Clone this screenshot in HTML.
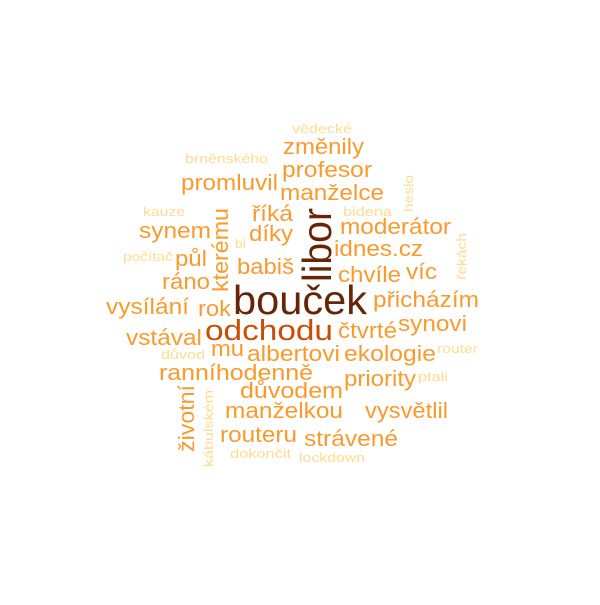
<!DOCTYPE html>
<html><head><meta charset="utf-8"><style>
html,body{margin:0;padding:0;background:#fff;}
svg text{font-family:"Liberation Sans",sans-serif;}
</style></head><body>
<svg width="600" height="600" viewBox="0 0 600 600" xmlns="http://www.w3.org/2000/svg">
<rect width="600" height="600" fill="#fff"/>
<g id="words"></g>
</svg>
<script>
const words = ["vědecké","změnily","brněnského","profesor","promluvil","manželce","heslo","kauze","bidena","říká","moderátor","synem","díky","kterému","libor","bl","idnes.cz","řekách","počítač","půl","babiš","chvíle","víc","ráno","bouček","přicházím","vysílání","rok","odchodu","čtvrté","synovi","vstával","důvod","mu","albertovi","ekologie","router","ranníhodenně","priority","ptali","důvodem","životní","kábulském","manželkou","vysvětlil","routeru","strávené","dokončit","lockdown"];
const weights = [1,2,1,2,2,2,1,1,1,2,2,2,2,2,5,1,2,1,1,2,2,2,2,2,5,2,2,2,4,2,2,2,1,2,2,2,1,2,2,1,2,2,1,2,2,2,2,1,1];
// layout: [x, y(baseline), width, rotated]
const layout = [
[292,133,60,0],[283,154,81,0],[185,163,83,0],[282,177,90,0],[181,190,97,0],[280,200,104,0],
[413,212,37,1],[143,216,42,0],[343,216,49,0],[252,221,41,0],[340,234,111,0],[139,238,72,0],
[249,241,44,0],[228,292,84,1],[331,282,74,1],[235,248,11,0],[334,256,89,0],[466,280,47,1],
[123,261,50,0],[175,266,32,0],[237,274,57,0],[338,282,63,0],[406,279,31,0],[162,289,48,0],
[233,314,134,0],[373,307,106,0],[106,314,83,0],[198,316,33,0],[205,340,128,0],[338,338,59,0],
[398,331,69,0],[126,345,76,0],[161,359,44,0],[211,356,33,0],[247,361,93,0],[344,361,92,0],
[437,353,41,0],[159,380,154,0],[344,386,72,0],[418,381,30,0],[240,398,103,0],[194,452,67,1],
[213,467,77,1],[225,418,118,0],[365,418,83,0],[220,442,77,0],[304,446,94,0],[230,458,61,0],[299,462,66,0]
];
const sizes = {1:13,2:22,4:29,5:41};
const colors = {1:"#fedc8f",2:"#fb9a2c",4:"#cc4c02",5:"#662506"};
const g = document.getElementById('words');
words.forEach((w,i)=>{
  const [x,y,wd,rot] = layout[i];
  const t = document.createElementNS('http://www.w3.org/2000/svg','text');
  
  
  t.setAttribute('font-size', sizes[weights[i]]);
  t.setAttribute('fill', colors[weights[i]]);
  t.setAttribute('textLength', wd);
  t.setAttribute('lengthAdjust', 'spacingAndGlyphs');
  if (rot) { t.setAttribute('x',0); t.setAttribute('y',0); t.setAttribute('transform','translate('+x+','+y+') rotate(-90)'); }
  else { t.setAttribute('x',x); t.setAttribute('y',y); }
  t.textContent = w;
  g.appendChild(t);
});
</script>
</body></html>
